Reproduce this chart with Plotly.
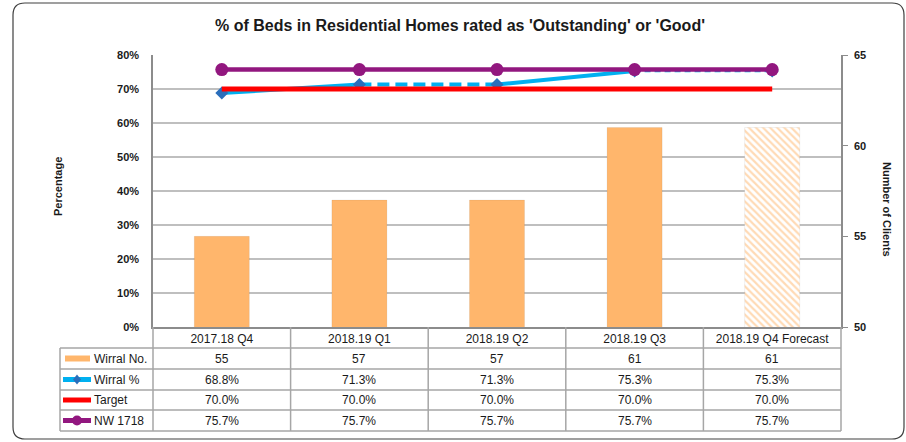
import plotly.graph_objects as go

# ---------------- data ----------------
categories = ["2017.18 Q4", "2018.19 Q1", "2018.19 Q2", "2018.19 Q3", "2018.19 Q4 Forecast"]
wirral_no = [55, 57, 57, 61, 61]
wirral_pct = [68.8, 71.3, 71.3, 75.3, 75.3]
target_pct = [70.0, 70.0, 70.0, 70.0, 70.0]
nw_pct = [75.7, 75.7, 75.7, 75.7, 75.7]
segment_dash = ["solid", "12px,6px", "solid", "6px,4px"]
bar_pattern = ["", "", "", "", "\\"]
series_names = ["Wirral No.", "Wirral %", "Target", "NW 1718"]

# ---------------- style ----------------
W, H = 906, 442
L, R, T, B = 153, 841, 55, 327
ORANGE = "#FFB66C"
BLUE = "#00B0F0"
DBLUE = "#2A6EBB"
RED = "#FF0000"
PURPLE = "#92177F"
GRID = "#BFBFBF"
AXIS = "#8C8C8C"
FONT = "Liberation Sans, Arial, sans-serif"
TXT = "#1a1a1a"


def px(x):
    return (x - L) / (R - L)


def py(y):
    return (B - y) / (B - T)


fig = go.Figure()

# bars on the right-hand (clients) axis
fig.add_trace(go.Bar(
    x=categories, y=wirral_no, yaxis="y2", width=0.4,
    marker=dict(color=ORANGE, line=dict(color="rgba(0,0,0,0.06)", width=1),
                pattern=dict(shape=bar_pattern, fgcolor=ORANGE, bgcolor="white",
                             size=5, solidity=0.45)),
    showlegend=False, hoverinfo="skip"))

# Wirral % line segments
for i, d in enumerate(segment_dash):
    fig.add_trace(go.Scatter(
        x=categories[i:i + 2], y=wirral_pct[i:i + 2], mode="lines",
        line=dict(color=BLUE, width=4 if d == "solid" or i == 1 else 2.5, dash=d),
        showlegend=False, hoverinfo="skip"))
fig.add_trace(go.Scatter(
    x=categories, y=wirral_pct, mode="markers",
    marker=dict(symbol="diamond", size=10, color=DBLUE),
    showlegend=False, hoverinfo="skip"))

# Target
fig.add_trace(go.Scatter(
    x=categories, y=target_pct, mode="lines",
    line=dict(color=RED, width=5), showlegend=False, hoverinfo="skip"))

# NW 1718
fig.add_trace(go.Scatter(
    x=categories, y=nw_pct, mode="lines+markers",
    line=dict(color=PURPLE, width=4.5),
    marker=dict(symbol="circle", size=13, color=PURPLE),
    showlegend=False, hoverinfo="skip"))

shapes = []
annotations = []

# outer rounded border
bl, br, bt, bb, rr = 13, 904, 3, 439, 12
path = (f"M {px(bl + rr)},{py(bt)} L {px(br - rr)},{py(bt)} "
        f"Q {px(br)},{py(bt)} {px(br)},{py(bt + rr)} "
        f"L {px(br)},{py(bb - rr)} Q {px(br)},{py(bb)} {px(br - rr)},{py(bb)} "
        f"L {px(bl + rr)},{py(bb)} Q {px(bl)},{py(bb)} {px(bl)},{py(bb - rr)} "
        f"L {px(bl)},{py(bt + rr)} Q {px(bl)},{py(bt)} {px(bl + rr)},{py(bt)} Z")
shapes.append(dict(type="path", xref="paper", yref="paper", path=path,
                   line=dict(color="#404040", width=1.2), layer="below"))

# table grid
row_edges = [348, 369, 390, 410, 431]
tcol = "#A6A6A6"
for ye in row_edges:
    shapes.append(dict(type="line", xref="paper", yref="paper",
                       x0=px(60), x1=px(R), y0=py(ye), y1=py(ye),
                       line=dict(color=tcol, width=1.5)))
ncat = len(categories)
for k in range(ncat + 1):
    xe = k / ncat
    shapes.append(dict(type="line", xref="paper", yref="paper",
                       x0=xe, x1=xe, y0=py(B), y1=py(431),
                       line=dict(color=tcol, width=1.5)))
shapes.append(dict(type="line", xref="paper", yref="paper",
                   x0=px(60), x1=px(60), y0=py(348), y1=py(431),
                   line=dict(color=tcol, width=1.5)))

# table values
row_vals = [
    [f"{v}" for v in wirral_no],
    [f"{v:.1f}%" for v in wirral_pct],
    [f"{v:.1f}%" for v in target_pct],
    [f"{v:.1f}%" for v in nw_pct],
]
row_centers = [(row_edges[j] + row_edges[j + 1]) / 2 for j in range(4)]
for j, vals in enumerate(row_vals):
    for i, v in enumerate(vals):
        annotations.append(dict(xref="paper", yref="paper", x=(i + 0.5) / ncat,
                                y=py(row_centers[j]), text=v, showarrow=False,
                                font=dict(family=FONT, size=12, color=TXT),
                                xanchor="center", yanchor="middle"))
    annotations.append(dict(xref="paper", yref="paper", x=px(92), y=py(row_centers[j]),
                            text=series_names[j], showarrow=False,
                            font=dict(family=FONT, size=12, color=TXT),
                            xanchor="left", yanchor="middle"))

# legend keys
yc = row_centers
shapes.append(dict(type="rect", xref="paper", yref="paper", x0=px(65), x1=px(90),
                   y0=py(yc[0] - 3), y1=py(yc[0] + 3), fillcolor=ORANGE, line=dict(width=0)))
shapes.append(dict(type="line", xref="paper", yref="paper", x0=px(63), x1=px(91),
                   y0=py(yc[1]), y1=py(yc[1]), line=dict(color=BLUE, width=5)))
shapes.append(dict(type="path", xref="paper", yref="paper",
                   path=(f"M {px(77)},{py(yc[1] - 5)} L {px(81)},{py(yc[1])} "
                         f"L {px(77)},{py(yc[1] + 5)} L {px(73)},{py(yc[1])} Z"),
                   fillcolor=DBLUE, line=dict(width=0)))
shapes.append(dict(type="line", xref="paper", yref="paper", x0=px(63), x1=px(91),
                   y0=py(yc[2]), y1=py(yc[2]), line=dict(color=RED, width=5)))
shapes.append(dict(type="line", xref="paper", yref="paper", x0=px(63), x1=px(91),
                   y0=py(yc[3]), y1=py(yc[3]), line=dict(color=PURPLE, width=5)))
shapes.append(dict(type="circle", xref="paper", yref="paper", x0=px(72), x1=px(82),
                   y0=py(yc[3] - 5), y1=py(yc[3] + 5), fillcolor=PURPLE,
                   line=dict(width=0)))

# axis titles
annotations.append(dict(xref="paper", yref="paper", x=px(58), y=py(187), text="Percentage",
                        textangle=-90, showarrow=False, xanchor="center", yanchor="middle",
                        font=dict(family=FONT, size=11, color=TXT, weight="bold")))
annotations.append(dict(xref="paper", yref="paper", x=px(887), y=py(210),
                        text="Number of Clients", textangle=90, showarrow=False,
                        xanchor="center", yanchor="middle",
                        font=dict(family=FONT, size=11, color=TXT, weight="bold")))

fig.update_layout(
    width=W, height=H,
    margin=dict(l=L, r=W - R, t=T, b=H - B),
    paper_bgcolor="white", plot_bgcolor="white",
    title=dict(text="% of Beds in Residential Homes rated as 'Outstanding' or 'Good'",
               x=460 / W, xanchor="center", y=1 - 25 / H, yanchor="middle",
               font=dict(family=FONT, size=16, color=TXT, weight="bold")),
    xaxis=dict(type="category", range=[-0.5, ncat - 0.5], showline=True,
               linecolor=AXIS, linewidth=2, ticks="", showgrid=False,
               tickfont=dict(family=FONT, size=12, color=TXT), ticklabelstandoff=0),
    yaxis=dict(range=[0, 80], dtick=10, ticksuffix="%", showgrid=True,
               gridcolor=GRID, gridwidth=1.5, showline=True, linecolor=AXIS,
               linewidth=1.5, zeroline=False, ticks="", ticklabelstandoff=10,
               tickfont=dict(family=FONT, size=11, color=TXT, weight="bold")),
    yaxis2=dict(range=[50, 65], dtick=5, overlaying="y", side="right",
                showgrid=False, zeroline=False, showline=True, linecolor=AXIS,
                linewidth=1.5, ticks="outside", ticklen=5, tickcolor=AXIS,
                ticklabelstandoff=4,
                tickfont=dict(family=FONT, size=11, color=TXT, weight="bold")),
    shapes=shapes, annotations=annotations,
    bargap=0.6,
)

fig.write_html("out.html", config={"displayModeBar": False},
               post_script="document.body.style.margin='0px';document.body.style.padding='0px';")
